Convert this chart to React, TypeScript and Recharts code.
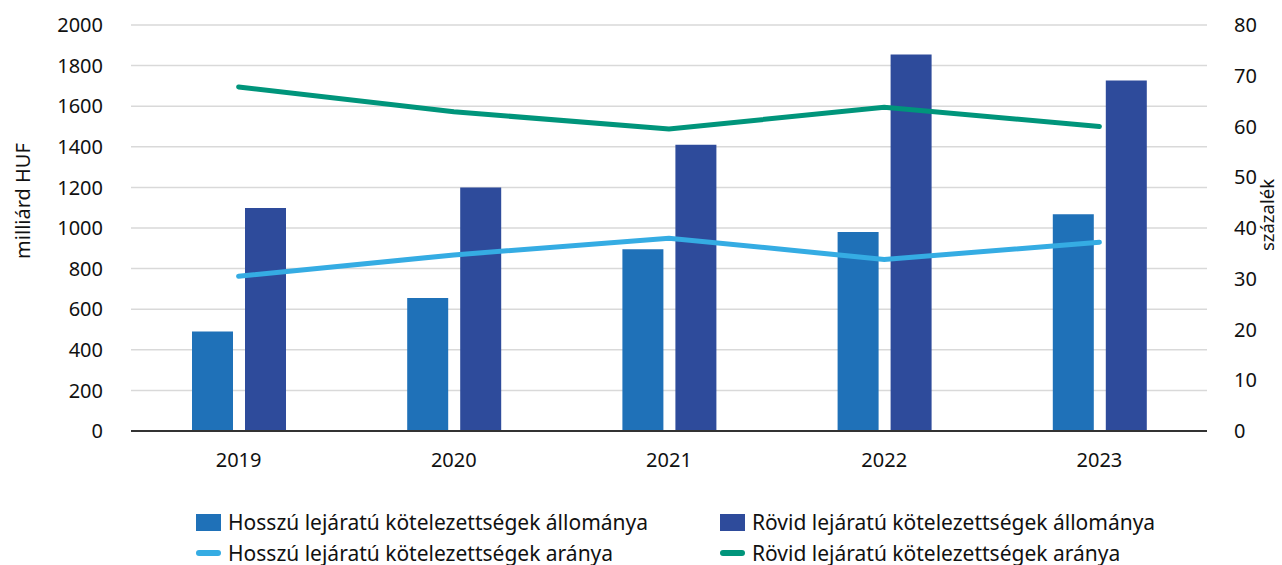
import React from 'react';
import { ComposedChart, Bar, Line, XAxis, YAxis, CartesianGrid, Legend, Label } from 'recharts';

const years = ['2019', '2020', '2021', '2022', '2023'];
const hosszuAllomany = [490, 655, 895, 980, 1068];
const rovidAllomany = [1098, 1200, 1410, 1855, 1727];
const hosszuArany = [30.5, 34.7, 38.0, 33.8, 37.2];
const rovidArany = [67.8, 62.9, 59.5, 63.8, 60.0];

const leftTicks = [0, 200, 400, 600, 800, 1000, 1200, 1400, 1600, 1800, 2000];
const rightTicks = [0, 10, 20, 30, 40, 50, 60, 70, 80];

const data = years.map((year, i) => ({
  year,
  hosszuAllomany: hosszuAllomany[i],
  rovidAllomany: rovidAllomany[i],
  hosszuArany: hosszuArany[i],
  rovidArany: rovidArany[i],
}));

const FONT = '"Noto Sans", "Open Sans", sans-serif';
const C_HOSSZU_BAR = '#1f71b8';
const C_ROVID_BAR = '#2e4b9b';
const C_HOSSZU_LINE = '#35ace3';
const C_ROVID_LINE = '#00957b';

const legendItems = [
  { label: 'Hosszú lejáratú kötelezettségek állománya', color: C_HOSSZU_BAR, kind: 'bar', left: 196, top: 0 },
  { label: 'Rövid lejáratú kötelezettségek állománya', color: C_ROVID_BAR, kind: 'bar', left: 720, top: 0 },
  { label: 'Hosszú lejáratú kötelezettségek aránya', color: C_HOSSZU_LINE, kind: 'line', left: 196, top: 31 },
  { label: 'Rövid lejáratú kötelezettségek aránya', color: C_ROVID_LINE, kind: 'line', left: 720, top: 31 },
];

function ChartLegend() {
  return (
    <div style={{ position: 'relative', width: 1282, height: 55, fontFamily: FONT, fontSize: 21, color: '#111' }}>
      {legendItems.map((item) => (
        <div
          key={item.label}
          style={{ position: 'absolute', left: item.left, top: item.top, height: 24, display: 'flex', alignItems: 'center', whiteSpace: 'nowrap' }}
        >
          {item.kind === 'bar' ? (
            <span style={{ display: 'inline-block', width: 25, height: 17, background: item.color }} />
          ) : (
            <span style={{ display: 'inline-block', width: 25, height: 6, borderRadius: 3, background: item.color }} />
          )}
          <span style={{ marginLeft: 7 }}>{item.label}</span>
        </div>
      ))}
    </div>
  );
}

const axisTitle = (text: string, x: number, y: number, size: number) => () => (
  <text
    x={x}
    y={y}
    transform={`rotate(-90, ${x}, ${y})`}
    textAnchor="middle"
    dominantBaseline="central"
    fill="#111"
    fontSize={size}
    fontFamily={FONT}
  >
    {text}
  </text>
);

export default function App() {
  return (
    <div style={{ position: 'absolute', left: 0, top: 0, background: '#fff' }}>
      <ComposedChart
        width={1282}
        height={565}
        data={data}
        margin={{ top: 25, right: 0, left: 0, bottom: 0 }}
        barSize={41}
        barGap={12}
      >
        <CartesianGrid vertical={false} stroke="#d9d9d9" strokeWidth={1.5} yAxisId="left" />
        <XAxis
          dataKey="year"
          height={79}
          tickLine={false}
          axisLine={{ stroke: '#333', strokeWidth: 2 }}
          tickMargin={16}
          tick={{ fill: '#111', fontSize: 20, fontFamily: FONT }}
        />
        <YAxis
          yAxisId="left"
          width={131}
          domain={[0, 2000]}
          ticks={leftTicks}
          interval={0}
          axisLine={false}
          tickLine={false}
          tickMargin={22}
          tick={{ fill: '#111', fontSize: 20, fontFamily: FONT }}
        >
          <Label content={axisTitle('milliárd HUF', 22, 201, 20)} />
        </YAxis>
        <YAxis
          yAxisId="right"
          orientation="right"
          width={75}
          domain={[0, 80]}
          ticks={rightTicks}
          interval={0}
          axisLine={false}
          tickLine={false}
          tickMargin={21}
          tick={{ fill: '#111', fontSize: 20, fontFamily: FONT, textAnchor: 'start' }}
        >
          <Label content={axisTitle('százalék', 1266, 215, 18.5)} />
        </YAxis>
        <Legend verticalAlign="bottom" content={() => <ChartLegend />} wrapperStyle={{ left: 0, width: 1282 }} />
        <Bar yAxisId="left" dataKey="hosszuAllomany" name="Hosszú lejáratú kötelezettségek állománya" fill={C_HOSSZU_BAR} isAnimationActive={false} />
        <Bar yAxisId="left" dataKey="rovidAllomany" name="Rövid lejáratú kötelezettségek állománya" fill={C_ROVID_BAR} isAnimationActive={false} />
        <Line yAxisId="right" type="linear" dataKey="hosszuArany" name="Hosszú lejáratú kötelezettségek aránya" stroke={C_HOSSZU_LINE} strokeWidth={5} strokeLinecap="round" dot={false} activeDot={false} isAnimationActive={false} />
        <Line yAxisId="right" type="linear" dataKey="rovidArany" name="Rövid lejáratú kötelezettségek aránya" stroke={C_ROVID_LINE} strokeWidth={5} strokeLinecap="round" dot={false} activeDot={false} isAnimationActive={false} />
      </ComposedChart>
    </div>
  );
}
